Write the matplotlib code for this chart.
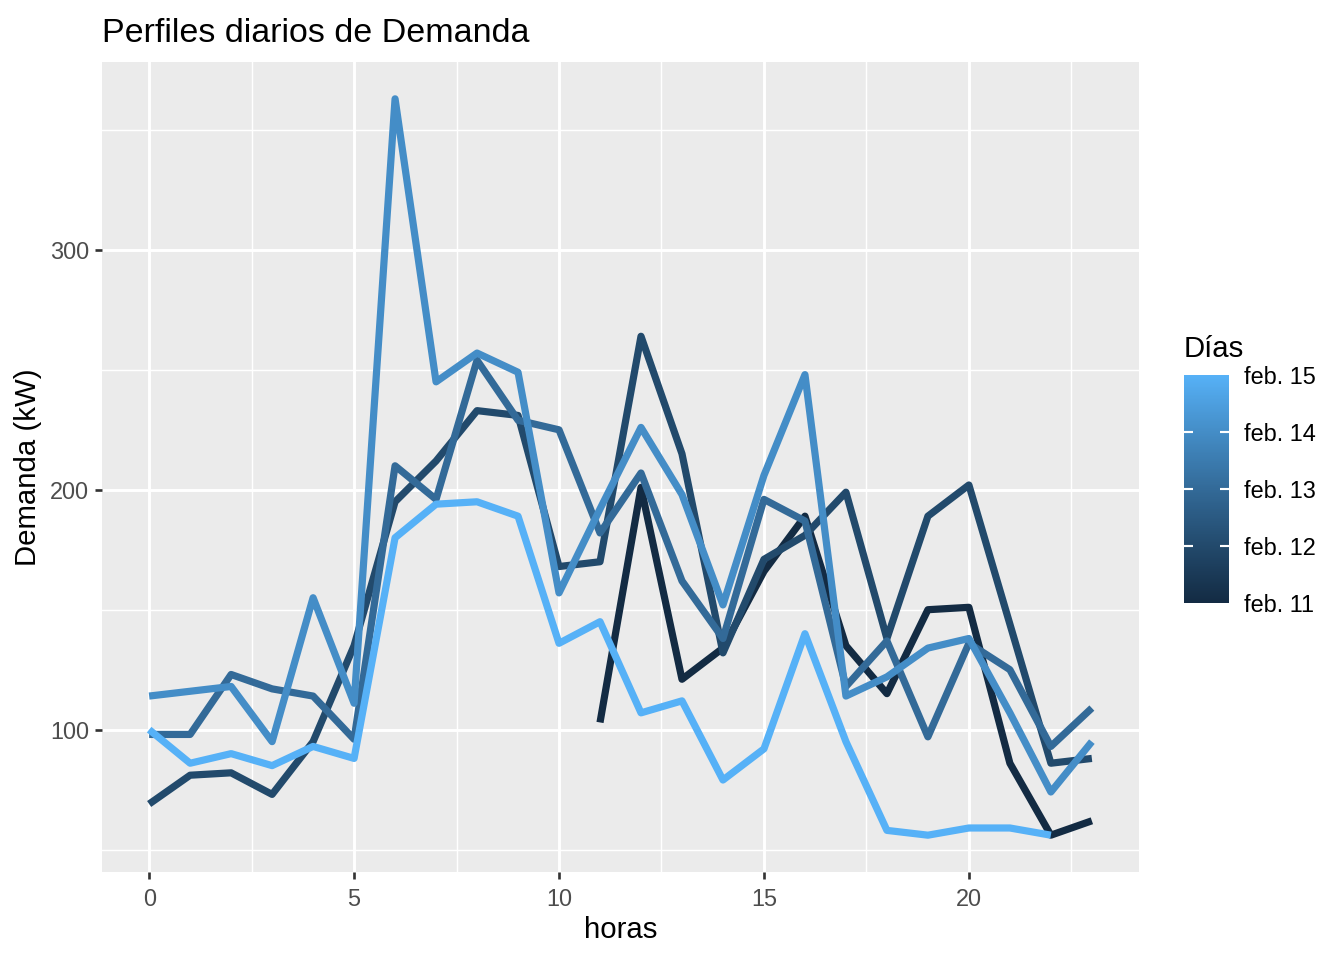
import numpy as np
import matplotlib
matplotlib.use("Agg")
import matplotlib.pyplot as plt
from matplotlib.colors import ListedColormap, Normalize, to_rgb
from matplotlib.ticker import MultipleLocator
import matplotlib.cm as cm

plt.rcParams['font.family'] = ['Liberation Sans', 'DejaVu Sans']

# ---------------- data ----------------
title = "Perfiles diarios de Demanda"
x_label = "horas"
y_label = "Demanda (kW)"
legend_title = "Días"

day_values = [11, 12, 13, 14, 15]
day_labels = ["feb. 11", "feb. 12", "feb. 13", "feb. 14", "feb. 15"]

feb11_hours = list(range(11, 24))
feb11 = [103, 201, 121, 134, 166, 189, 135, 115, 150, 151, 86, 56, 62]

feb12_hours = list(range(0, 24))
feb12 = [69, 81, 82, 73, 95, 135, 195, 212, 233, 231, 168, 170,
         264, 215, 132, 171, 181, 199, 138, 189, 202, 144, 86, 88]

feb13_hours = list(range(0, 24))
feb13 = [98, 98, 123, 117, 114, 96, 210, 196, 254, 229, 225, 182,
         207, 162, 138, 196, 187, 118, 137, 97, 136, 125, 93, 109]

feb14_hours = list(range(0, 24))
feb14 = [114, 116, 118, 95, 155, 111, 363, 245, 257, 249, 157, 192,
         226, 198, 152, 206, 248, 114, 122, 134, 138, 107, 74, 95]

feb15_hours = list(range(0, 23))
feb15 = [100, 86, 90, 85, 93, 88, 180, 194, 195, 189, 136, 145,
         107, 112, 79, 92, 140, 95, 58, 56, 59, 59, 56]

series_hours = [feb11_hours, feb12_hours, feb13_hours, feb14_hours, feb15_hours]
series_vals = [feb11, feb12, feb13, feb14, feb15]

x_ticks = [0, 5, 10, 15, 20]
y_ticks = [100, 200, 300]

# ---------------- colour scale (ggplot default gradient, Lab interp) ----------------
LOW, HIGH = "#132B43", "#56B1F7"
WHITE = np.array([0.95047, 1.0, 1.08883])
M = np.array([[0.4124564, 0.3575761, 0.1804375],
              [0.2126729, 0.7151522, 0.0721750],
              [0.0193339, 0.1191920, 0.9503041]])
Minv = np.linalg.inv(M)


def rgb2lab(rgb):
    c = np.array(rgb)
    lin = np.where(c <= 0.04045, c / 12.92, ((c + 0.055) / 1.055) ** 2.4)
    xyz = M @ lin / WHITE
    f = np.where(xyz > (6 / 29) ** 3, np.cbrt(xyz), xyz / (3 * (6 / 29) ** 2) + 4 / 29)
    return np.array([116 * f[1] - 16, 500 * (f[0] - f[1]), 200 * (f[1] - f[2])])


def lab2rgb(lab):
    L, a, b = lab
    fy = (L + 16) / 116
    fx = fy + a / 500
    fz = fy - b / 200
    f = np.array([fx, fy, fz])
    xyz = np.where(f > 6 / 29, f ** 3, 3 * (6 / 29) ** 2 * (f - 4 / 29)) * WHITE
    lin = Minv @ xyz
    lin = np.clip(lin, 0, 1)
    c = np.where(lin <= 0.0031308, 12.92 * lin, 1.055 * lin ** (1 / 2.4) - 0.055)
    return np.clip(c, 0, 1)


lab_lo, lab_hi = rgb2lab(to_rgb(LOW)), rgb2lab(to_rgb(HIGH))
cmap = ListedColormap([lab2rgb(lab_lo + t * (lab_hi - lab_lo)) for t in np.linspace(0, 1, 256)])
norm = Normalize(vmin=min(day_values), vmax=max(day_values))

# ---------------- figure ----------------
W, H = 1344, 960
fig = plt.figure(figsize=(7, 5), dpi=192)
fig.patch.set_facecolor('white')

pl, pr, pt, pb = 102, 1139, 62, 872
ax = fig.add_axes([pl / W, 1 - pb / H, (pr - pl) / W, (pb - pt) / H])
ax.set_facecolor('#EBEBEB')
for s in ax.spines.values():
    s.set_visible(False)

for i, (hh, vv) in enumerate(zip(series_hours, series_vals)):
    ax.plot(hh, vv, color=cmap(norm(day_values[i])), lw=2.7,
            solid_joinstyle='round', solid_capstyle='butt', zorder=3 + i)

ax.margins(x=0.05, y=0.05)
ax.set_xticks(x_ticks)
ax.set_yticks(y_ticks)
ax.xaxis.set_minor_locator(MultipleLocator(2.5))
ax.yaxis.set_minor_locator(MultipleLocator(50))
ax.grid(True, which='major', color='white', lw=1.1, zorder=1)
ax.grid(True, which='minor', color='white', lw=0.55, zorder=1)
ax.set_axisbelow(True)
ax.tick_params(which='major', length=2.75, width=1.0, color='#333333',
               labelsize=8.8, labelcolor='#4D4D4D', pad=2.2)
ax.tick_params(axis='x', which='major', pad=3.2)
ax.tick_params(which='minor', length=0)

ax.set_xlabel(x_label, fontsize=11, color='black')
ax.xaxis.set_label_coords(0.5, (pb - 930) / (pb - pt))
ax.xaxis.label.set_va('center')
ax.set_ylabel(y_label, fontsize=11, color='black')
ax.yaxis.set_label_coords((28 - pl) / (pr - pl), 0.5)
ax.yaxis.label.set_ha('center')
ax.yaxis.label.set_va('center')

fig.text(pl / W, 1 - 42 / H, title, fontsize=12.75, color='black', ha='left', va='baseline')

# ---------------- colour bar legend ----------------
cx0, cx1, cy0, cy1 = 1184, 1229, 375, 603
cax = fig.add_axes([cx0 / W, 1 - cy1 / H, (cx1 - cx0) / W, (cy1 - cy0) / H])
sm = cm.ScalarMappable(norm=norm, cmap=cmap)
cb = fig.colorbar(sm, cax=cax, ticks=day_values)
cb.outline.set_visible(False)
cb.set_ticklabels(day_labels)
cax.tick_params(axis='y', left=True, right=True, direction='in', length=3.4,
                width=0.8, color='white', labelsize=8.8, labelcolor='black', pad=5.8)
ticks = cax.yaxis.get_major_ticks()
for t in (ticks[0], ticks[-1]):
    t.tick1line.set_visible(False)
    t.tick2line.set_visible(False)
fig.text(cx0 / W, 1 - 357 / H, legend_title, fontsize=11, color='black',
         ha='left', va='baseline')

fig.savefig("out.png", dpi=192, facecolor='white')
